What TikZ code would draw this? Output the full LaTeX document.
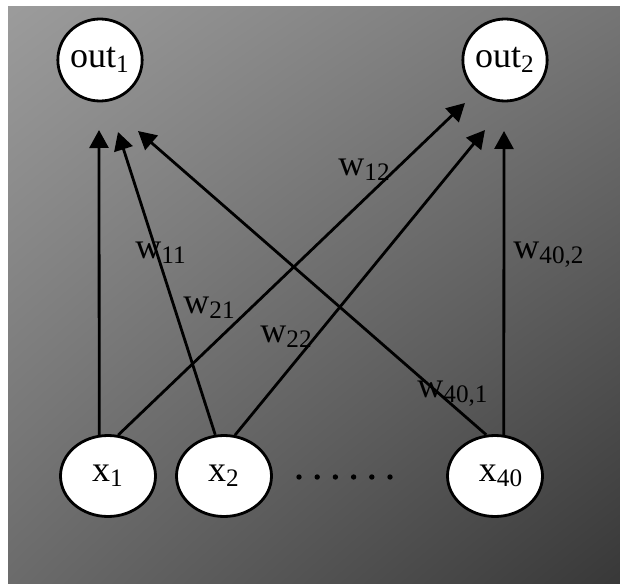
\documentclass[tikz,border=0pt]{standalone}
\usepackage{fontspec}
\setmainfont{Liberation Serif}
\usepackage{tikz}
\usetikzlibrary{shapes,arrows,positioning,arrows.meta,shadings}
\definecolor{bgtl}{gray}{0.61}
\definecolor{bgtr}{gray}{0.46}
\definecolor{bgbl}{gray}{0.42}
\definecolor{bgbr}{gray}{0.22}

\begin{document}
\begin{tikzpicture}[x=0.5pt,y=-0.5pt, every node/.style={font=\fontsize{18}{21}\selectfont}]
	\tikzstyle{out_style}=[ellipse, draw, fill=white, line width=1.4pt, inner sep=0pt, minimum width=37.5pt, minimum height=41pt]
	\tikzstyle{in_style}=[ellipse, draw, fill=white, line width=1.4pt, inner sep=0pt, minimum width=47.5pt, minimum height=40.5pt]
	\tikzstyle{weight_style}=[anchor=base west, inner sep=0pt]
	\tikzstyle{arrow_style}=[line width=1.4pt, -{Triangle[length=9pt, width=9.5pt]}]

	\useasboundingbox (0,0) rectangle (620,583);
	% background
	\shade[upper left=bgtl, upper right=bgtr, lower left=bgbl, lower right=bgbr] (8,7) rectangle (620,583);

	% outputs
	\node at (100,60) [out_style] (out_1) {out\textsubscript{1}};
	\node at (505,60) [out_style] (out_2) {out\textsubscript{2}};

	% inputs
	\node at (108,476) [in_style] (x_1) {x\textsubscript{1}};
	\node at (224,476) [in_style] (x_2) {x\textsubscript{2}};
	\node at (495,476) [in_style] (x_40) {\hspace{6pt}x\textsubscript{40}};
	\foreach \i in {0,...,5}
		\fill (299+18.2*\i, 477) circle (1.35pt);

	% arrow ends under out_1 and out_2
	\coordinate (end_1_1) at (99,130);
	\coordinate (end_2_1) at (118,132);
	\coordinate (end_40_1) at (138,131);
	\coordinate (end_1_2) at (465,103);
	\coordinate (end_2_2) at (485,130);
	\coordinate (end_40_2) at (504,131);

	% connect: inputs -> out_1
	\path[arrow_style] (x_1.102) edge (end_1_1);
	\path[arrow_style] (x_2.102) edge (end_2_1);
	\path[arrow_style] (x_40.102) edge (end_40_1);

	% connect: inputs -> out_2
	\path[arrow_style] (x_1.76) edge (end_1_2);
	\path[arrow_style] (x_2.75) edge (end_2_2);
	\path[arrow_style] (x_40.78) edge (end_40_2);

	% weights
	\node at (135,258) [weight_style] (w_11) {w\textsubscript{11}};
	\node at (183,313) [weight_style] (w_21) {w\textsubscript{21}};
	\node at (338,175) [weight_style] (w_12) {w\textsubscript{12}};
	\node at (260,342) [weight_style] (w_22) {w\textsubscript{22}};
	\node at (417,397) [weight_style] (w_40_1) {w\textsubscript{40,1}};
	\node at (513,258) [weight_style] (w_40_2) {w\textsubscript{40,2}};

\end{tikzpicture}
\end{document}
